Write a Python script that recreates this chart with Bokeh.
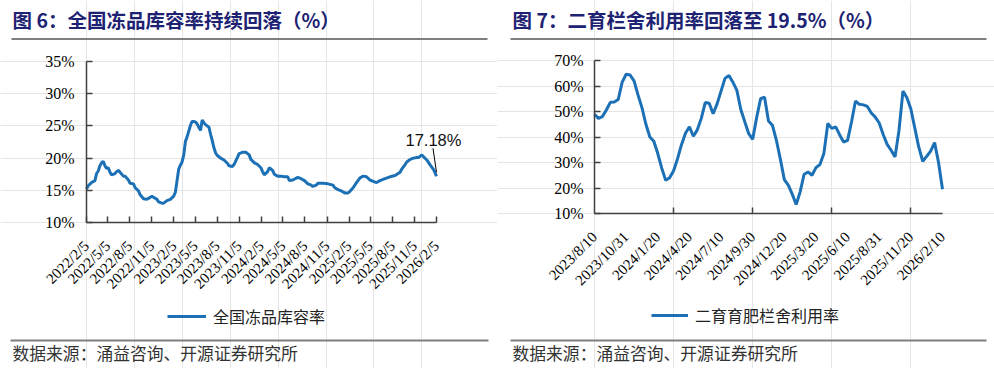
import pandas as pd
from bokeh.plotting import figure
from bokeh.layouts import row
from bokeh.models import (Range1d, FixedTicker, PrintfTickFormatter, Legend, LegendItem,
                          Label, LinearAxis)
from bokeh.core.properties import value
from bokeh.embed import file_html
from bokeh.resources import INLINE

TITLE_L = "图 6：全国冻品库容率持续回落（%）"
TITLE_R = "图 7：二育栏舍利用率回落至 19.5%（%）"
SOURCE = "数据来源：涌益咨询、开源证券研究所"
SERIES_L = "全国冻品库容率"
SERIES_R = "二育育肥栏舍利用率"
LAST_LABEL_L = "17.18%"

left_start = "2022/2/5"
left_tick_labels = ["2022/2/5", "2022/5/5", "2022/8/5", "2022/11/5", "2023/2/5", "2023/5/5",
                    "2023/8/5", "2023/11/5", "2024/2/5", "2024/5/5", "2024/8/5", "2024/11/5",
                    "2025/2/5", "2025/5/5", "2025/8/5", "2025/11/5", "2026/2/5"]
left_y_ticks = [10, 15, 20, 25, 30, 35]

# weeks after 2022/2/5
left_weeks = [0, 1, 3, 5, 6, 7, 8, 9, 10, 11,
              12, 13, 14, 15, 17, 18, 19, 20, 22, 23,
              25, 26, 28, 29, 31, 32, 34, 36, 38, 39,
              40, 42, 43, 45, 46, 47, 48, 50, 52, 53,
              54, 55, 56, 57, 58, 59, 60, 61, 62, 63,
              64, 65, 66, 67, 68, 69, 70, 71, 72, 73,
              74, 75, 76, 77, 78, 79, 80, 82, 84, 85,
              87, 88, 90, 91, 93, 95, 97, 98, 100, 102,
              104, 105, 106, 108, 109, 111, 112, 114, 116, 118,
              120, 121, 123, 126, 128, 130, 132, 134, 135, 137,
              138, 141, 144, 147, 148, 150, 152, 154, 156, 157,
              159, 161, 163, 165, 167, 169, 171, 173, 175, 178,
              181, 184, 187, 188, 190, 191, 193, 195, 197, 198,
              200, 201, 203, 204, 205, 207, 208.71]
left_vals = [15.2, 15.7, 16.2, 16.5, 17.6, 18.0, 18.8, 19.3, 19.5, 18.8,
             18.4, 18.5, 17.8, 17.4, 17.6, 17.9, 18.1, 17.8, 17.2, 17.2,
             16.6, 16.1, 16.0, 15.4, 14.9, 14.3, 13.7, 13.6, 13.9, 14.1,
             13.9, 13.6, 13.2, 13.0, 13.0, 13.2, 13.4, 13.6, 14.1, 14.7,
             16.5, 18.3, 18.9, 19.4, 20.5, 22.6, 23.3, 24.2, 25.1, 25.7,
             25.7, 25.6, 25.3, 24.8, 24.3, 25.9, 25.5, 25.2, 25.0, 24.8,
             23.7, 22.7, 21.6, 20.8, 20.4, 20.2, 20.0, 19.7, 19.2, 18.8,
             18.7, 19.0, 20.1, 20.7, 20.9, 20.9, 20.5, 19.8, 19.3, 19.0,
             18.5, 17.9, 17.4, 17.9, 18.5, 18.1, 17.5, 17.2, 17.2, 17.1,
             17.1, 16.5, 16.6, 17.0, 16.8, 16.5, 16.0, 15.8, 15.6, 15.8,
             16.1, 16.1, 16.0, 15.8, 15.4, 15.1, 14.9, 14.6, 14.6, 14.8,
             15.4, 16.2, 16.9, 17.2, 17.1, 16.6, 16.4, 16.2, 16.5, 16.8,
             17.1, 17.3, 17.8, 18.3, 19.0, 19.4, 19.8, 20.0, 20.1, 20.1,
             20.5, 20.2, 19.7, 19.3, 18.9, 18.2, 17.18]

right_labels = ["2023/8/10", "2023/10/31", "2024/1/20", "2024/4/20", "2024/7/10", "2024/9/30",
                "2024/12/20", "2025/3/20", "2025/6/10", "2025/8/31", "2025/11/20", "2026/2/10"]
right_y_ticks = [10, 20, 30, 40, 50, 60, 70]
right_vals = [48.9, 47.3, 48.0, 50.6, 53.6, 53.7, 54.7, 61.5, 64.6, 64.3,
              62.0, 56.5, 51.5, 45.0, 40.0, 38.3, 33.5, 27.8, 23.0, 24.0,
              26.8, 31.5, 37.0, 41.5, 44.0, 40.3, 42.8, 47.3, 53.5, 53.2,
              49.1, 53.0, 58.0, 63.0, 64.1, 61.5, 58.3, 50.8, 46.0, 41.3,
              39.1, 47.6, 55.0, 55.6, 46.3, 44.6, 38.7, 31.3, 23.3, 21.1,
              17.6, 13.5, 18.5, 25.4, 26.3, 25.0, 28.0, 29.2, 33.5, 45.3,
              43.4, 44.0, 40.8, 38.0, 38.7, 46.0, 54.1, 52.8, 52.6, 52.0,
              49.4, 47.8, 45.5, 41.0, 37.1, 34.8, 32.2, 42.6, 58.0, 55.4,
              51.0, 43.5, 36.0, 30.5, 32.4, 34.5, 37.8, 30.0, 19.5]

assert len(left_weeks) == len(left_vals)

BLUE = "#1b70b6"
NAVY = "#1d2272"
AXIS = "#404040"
RULE = "#7f7f7f"
CJK = "Noto Sans CJK SC"
SERIF = "Liberation Serif"
PW, PH = 497, 368          # panel size; page has no margin in practice


class Panel:
    """Frame covers the whole panel; axes sit at fixed data locations."""

    def __init__(self, page_x0, fx0, fx1, fy_top, fy_bot, xr, yr):
        self.kx = (fx1 - fx0) / (xr[1] - xr[0])
        self.ky = (fy_bot - fy_top) / (yr[1] - yr[0])
        self.fx0, self.fy_bot, self.xr, self.yr = fx0, fy_bot, xr, yr
        self.page_x0 = page_x0
        self.p = figure(width=PW, height=PH,
                        x_range=Range1d(self.X(page_x0), self.X(page_x0 + PW)),
                        y_range=Range1d(self.Y(PH), self.Y(0)), min_border=0,
                        x_axis_location=None, y_axis_location=None,
                        output_backend="svg", toolbar_location=None)
        self.p.outline_line_color = None
        self.p.background_fill_color = None
        self.p.border_fill_color = None

    def X(self, px):
        return self.xr[0] + (px - self.fx0) / self.kx

    def Y(self, py):
        return self.yr[0] + (self.fy_bot - py) / self.ky

    def axes(self, xticks, xlabels, yticks, ystandoff, xminor=None, x_tick_on_major=True):
        p = self.p
        xa = LinearAxis(fixed_location=self.yr[0], bounds=self.xr)
        ya = LinearAxis(fixed_location=self.xr[0], bounds=self.yr)
        for ax in (xa, ya):
            ax.axis_line_color = AXIS
            ax.axis_line_width = 1.5
            ax.major_tick_line_color = AXIS
            ax.major_tick_line_width = 1.5
            ax.major_tick_in = 6
            ax.major_tick_out = 0
            ax.minor_tick_line_color = None
            ax.major_label_text_font = SERIF
            ax.major_label_text_color = "#000000"
        ya.ticker = FixedTicker(ticks=yticks)
        ya.formatter = PrintfTickFormatter(format="%d%%")
        ya.major_label_text_font_size = "16px"
        ya.major_label_standoff = ystandoff
        xa.ticker = FixedTicker(ticks=xticks, minor_ticks=xminor or [])
        xa.major_label_overrides = {t: s for t, s in zip(xticks, xlabels)}
        xa.major_label_text_font_size = "15px"
        xa.major_label_orientation = 0.7854
        xa.major_label_standoff = 21
        if not x_tick_on_major:
            xa.major_tick_line_color = None
            xa.minor_tick_line_color = AXIS
            xa.minor_tick_line_width = 1.5
            xa.minor_tick_in = 6
            xa.minor_tick_out = 0
        p.add_layout(xa, "below")
        p.add_layout(ya, "left")

    def decor(self, title, tx, rx0, rx1, fx0, fx1):
        p = self.p
        p.text(x=[self.X(tx)], y=[self.Y(19)], text=[title], text_font=value(CJK),
               text_font_style="bold", text_font_size="19.5px", text_color=NAVY,
               text_baseline="middle")
        p.segment(x0=[self.X(rx0)], y0=[self.Y(38.5)], x1=[self.X(rx1)], y1=[self.Y(38.5)],
                  line_color=RULE, line_width=2)
        p.segment(x0=[self.X(fx0)], y0=[self.Y(340)], x1=[self.X(fx1)], y1=[self.Y(340)],
                  line_color=RULE, line_width=2)
        p.text(x=[self.X(tx)], y=[self.Y(352)], text=[SOURCE], text_font=value(CJK),
               text_font_size="16.8px", text_color="#333333", text_baseline="middle")

    def legend(self, r, label, page_x, page_y_center, glyph_w):
        leg = Legend(items=[LegendItem(label=label, renderers=[r])],
                     location=(page_x - self.page_x0, PH - page_y_center - 13),
                     orientation="horizontal", border_line_color=None,
                     background_fill_alpha=0, padding=0, margin=0, glyph_width=glyph_w,
                     glyph_height=20, label_height=20, label_standoff=7,
                     label_text_font=CJK, label_text_font_size="16px",
                     label_text_color="#222222")
        self.p.add_layout(leg, "center")


# ---------- left chart ----------
base = pd.Timestamp(left_start)
lx = [w * 7 for w in left_weeks]
tick_days = [(pd.Timestamp(t) - base).days for t in left_tick_labels]

L = Panel(0, 86, 436, 61, 222, (0, tick_days[-1]), (left_y_ticks[0], left_y_ticks[-1]))
L.decor(TITLE_L, 12, 11, 487, 10, 488)
rl = L.p.line(lx, left_vals, line_color=BLUE, line_width=3)
L.axes(tick_days, left_tick_labels, left_y_ticks, 12)
L.p.segment(x0=[lx[-1] - 3.5 / L.kx], y0=[left_vals[-1] + 28 / L.ky],
            x1=[lx[-1]], y1=[left_vals[-1] + 4 / L.ky], line_color="#000000", line_width=1)
L.p.add_layout(Label(x=lx[-1], y=left_vals[-1], x_offset=-31, y_offset=36, text=LAST_LABEL_L,
                     text_font="Liberation Sans", text_font_size="16.5px", text_color="#111111",
                     text_baseline="alphabetic"))
L.legend(rl, SERIES_L, 167, 315, 39)

# ---------- right chart ----------
rx = list(range(len(right_vals)))
lab_idx = [i * 8 for i in range(len(right_labels))]
minor_idx = [i for i in rx if i % 20 == 0 and 0 < i < rx[-1]]

R = Panel(497, 594, 942, 60, 213, (0, rx[-1]), (right_y_ticks[0], right_y_ticks[-1]))
R.decor(TITLE_R, 512, 510, 986, 510, 986)
rr = R.p.line(rx, right_vals, line_color=BLUE, line_width=3)
R.axes(lab_idx, right_labels, right_y_ticks, 11, xminor=minor_idx, x_tick_on_major=False)
R.legend(rr, SERIES_R, 651, 314, 37)

layout = row(L.p, R.p)
open("out.html", "w").write(file_html(layout, INLINE))
